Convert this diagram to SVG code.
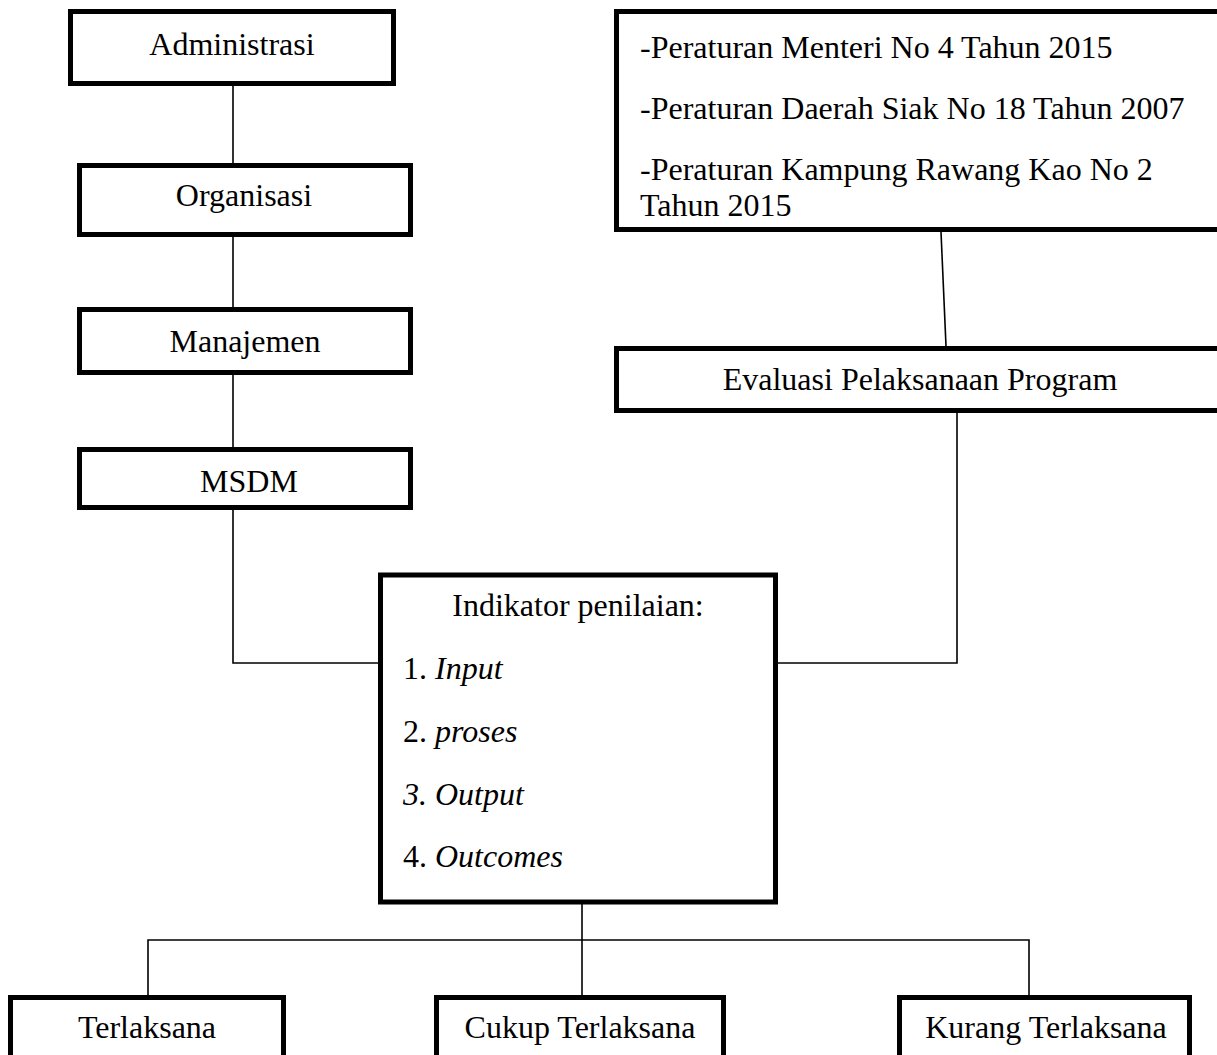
<svg xmlns="http://www.w3.org/2000/svg" width="1217" height="1055" viewBox="0 0 1217 1055">
<style>
.box{fill:#fff;stroke:#000;stroke-width:5}
.con{fill:none;stroke:#000;stroke-width:1.6}
text{font-family:"Liberation Serif","Times New Roman",serif;font-size:32px;fill:#000}
.c{text-anchor:middle}
.i{font-style:italic}
</style>
<rect width="1217" height="1055" fill="#fff"/>
<g id="connectors">
<line class="con" x1="233" y1="86" x2="233" y2="163"/>
<line class="con" x1="233" y1="237" x2="233" y2="307"/>
<line class="con" x1="233" y1="375" x2="233" y2="447"/>
<polyline class="con" points="233,510 233,663 378,663"/>
<line class="con" x1="941" y1="232" x2="946" y2="346"/>
<polyline class="con" points="957,413 957,663 778,663"/>
<line class="con" x1="582" y1="904" x2="582" y2="995"/>
<polyline class="con" points="148,995 148,940 1029,940 1029,1018"/>
</g>
<g id="administrasi">
<rect class="box" x="70.5" y="11.5" width="323" height="72"/>
<text class="c" x="232" y="55">Administrasi</text>
</g>
<g id="organisasi">
<rect class="box" x="79.5" y="165.5" width="331" height="69"/>
<text class="c" x="244" y="206">Organisasi</text>
</g>
<g id="manajemen">
<rect class="box" x="79.5" y="309.5" width="331" height="63"/>
<text class="c" x="245" y="352">Manajemen</text>
</g>
<g id="msdm">
<rect class="box" x="79.5" y="449.5" width="331" height="58"/>
<text class="c" x="249" y="492">MSDM</text>
</g>
<g id="peraturan">
<rect class="box" x="616.5" y="11.5" width="620" height="218"/>
<text x="640" y="58">-Peraturan Menteri No 4 Tahun 2015</text>
<text x="640" y="119">-Peraturan Daerah Siak No 18 Tahun 2007</text>
<text x="640" y="180">-Peraturan Kampung Rawang Kao No 2</text>
<text x="640" y="216">Tahun 2015</text>
</g>
<g id="evaluasi">
<rect class="box" x="616.5" y="348.5" width="620" height="62"/>
<text class="c" x="920" y="390">Evaluasi Pelaksanaan Program</text>
</g>
<g id="indikator">
<rect class="box" x="380.5" y="575" width="395" height="327"/>
<text class="c" x="578" y="616">Indikator penilaian:</text>
<text x="403" y="679">1. <tspan class="i">Input</tspan></text>
<text x="403" y="742">2. <tspan class="i">proses</tspan></text>
<text x="403" y="805" class="i">3. Output</text>
<text x="403" y="867">4. <tspan class="i">Outcomes</tspan></text>
</g>
<g id="terlaksana">
<rect class="box" x="10.5" y="997.5" width="273" height="80"/>
<text class="c" x="147" y="1038">Terlaksana</text>
</g>
<g id="cukup">
<rect class="box" x="436.5" y="997.5" width="287" height="80"/>
<text class="c" x="580" y="1038">Cukup Terlaksana</text>
</g>
<g id="kurang">
<rect class="box" x="899.5" y="997.5" width="290" height="80"/>
<text class="c" x="1046" y="1038">Kurang Terlaksana</text>
</g>
</svg>
